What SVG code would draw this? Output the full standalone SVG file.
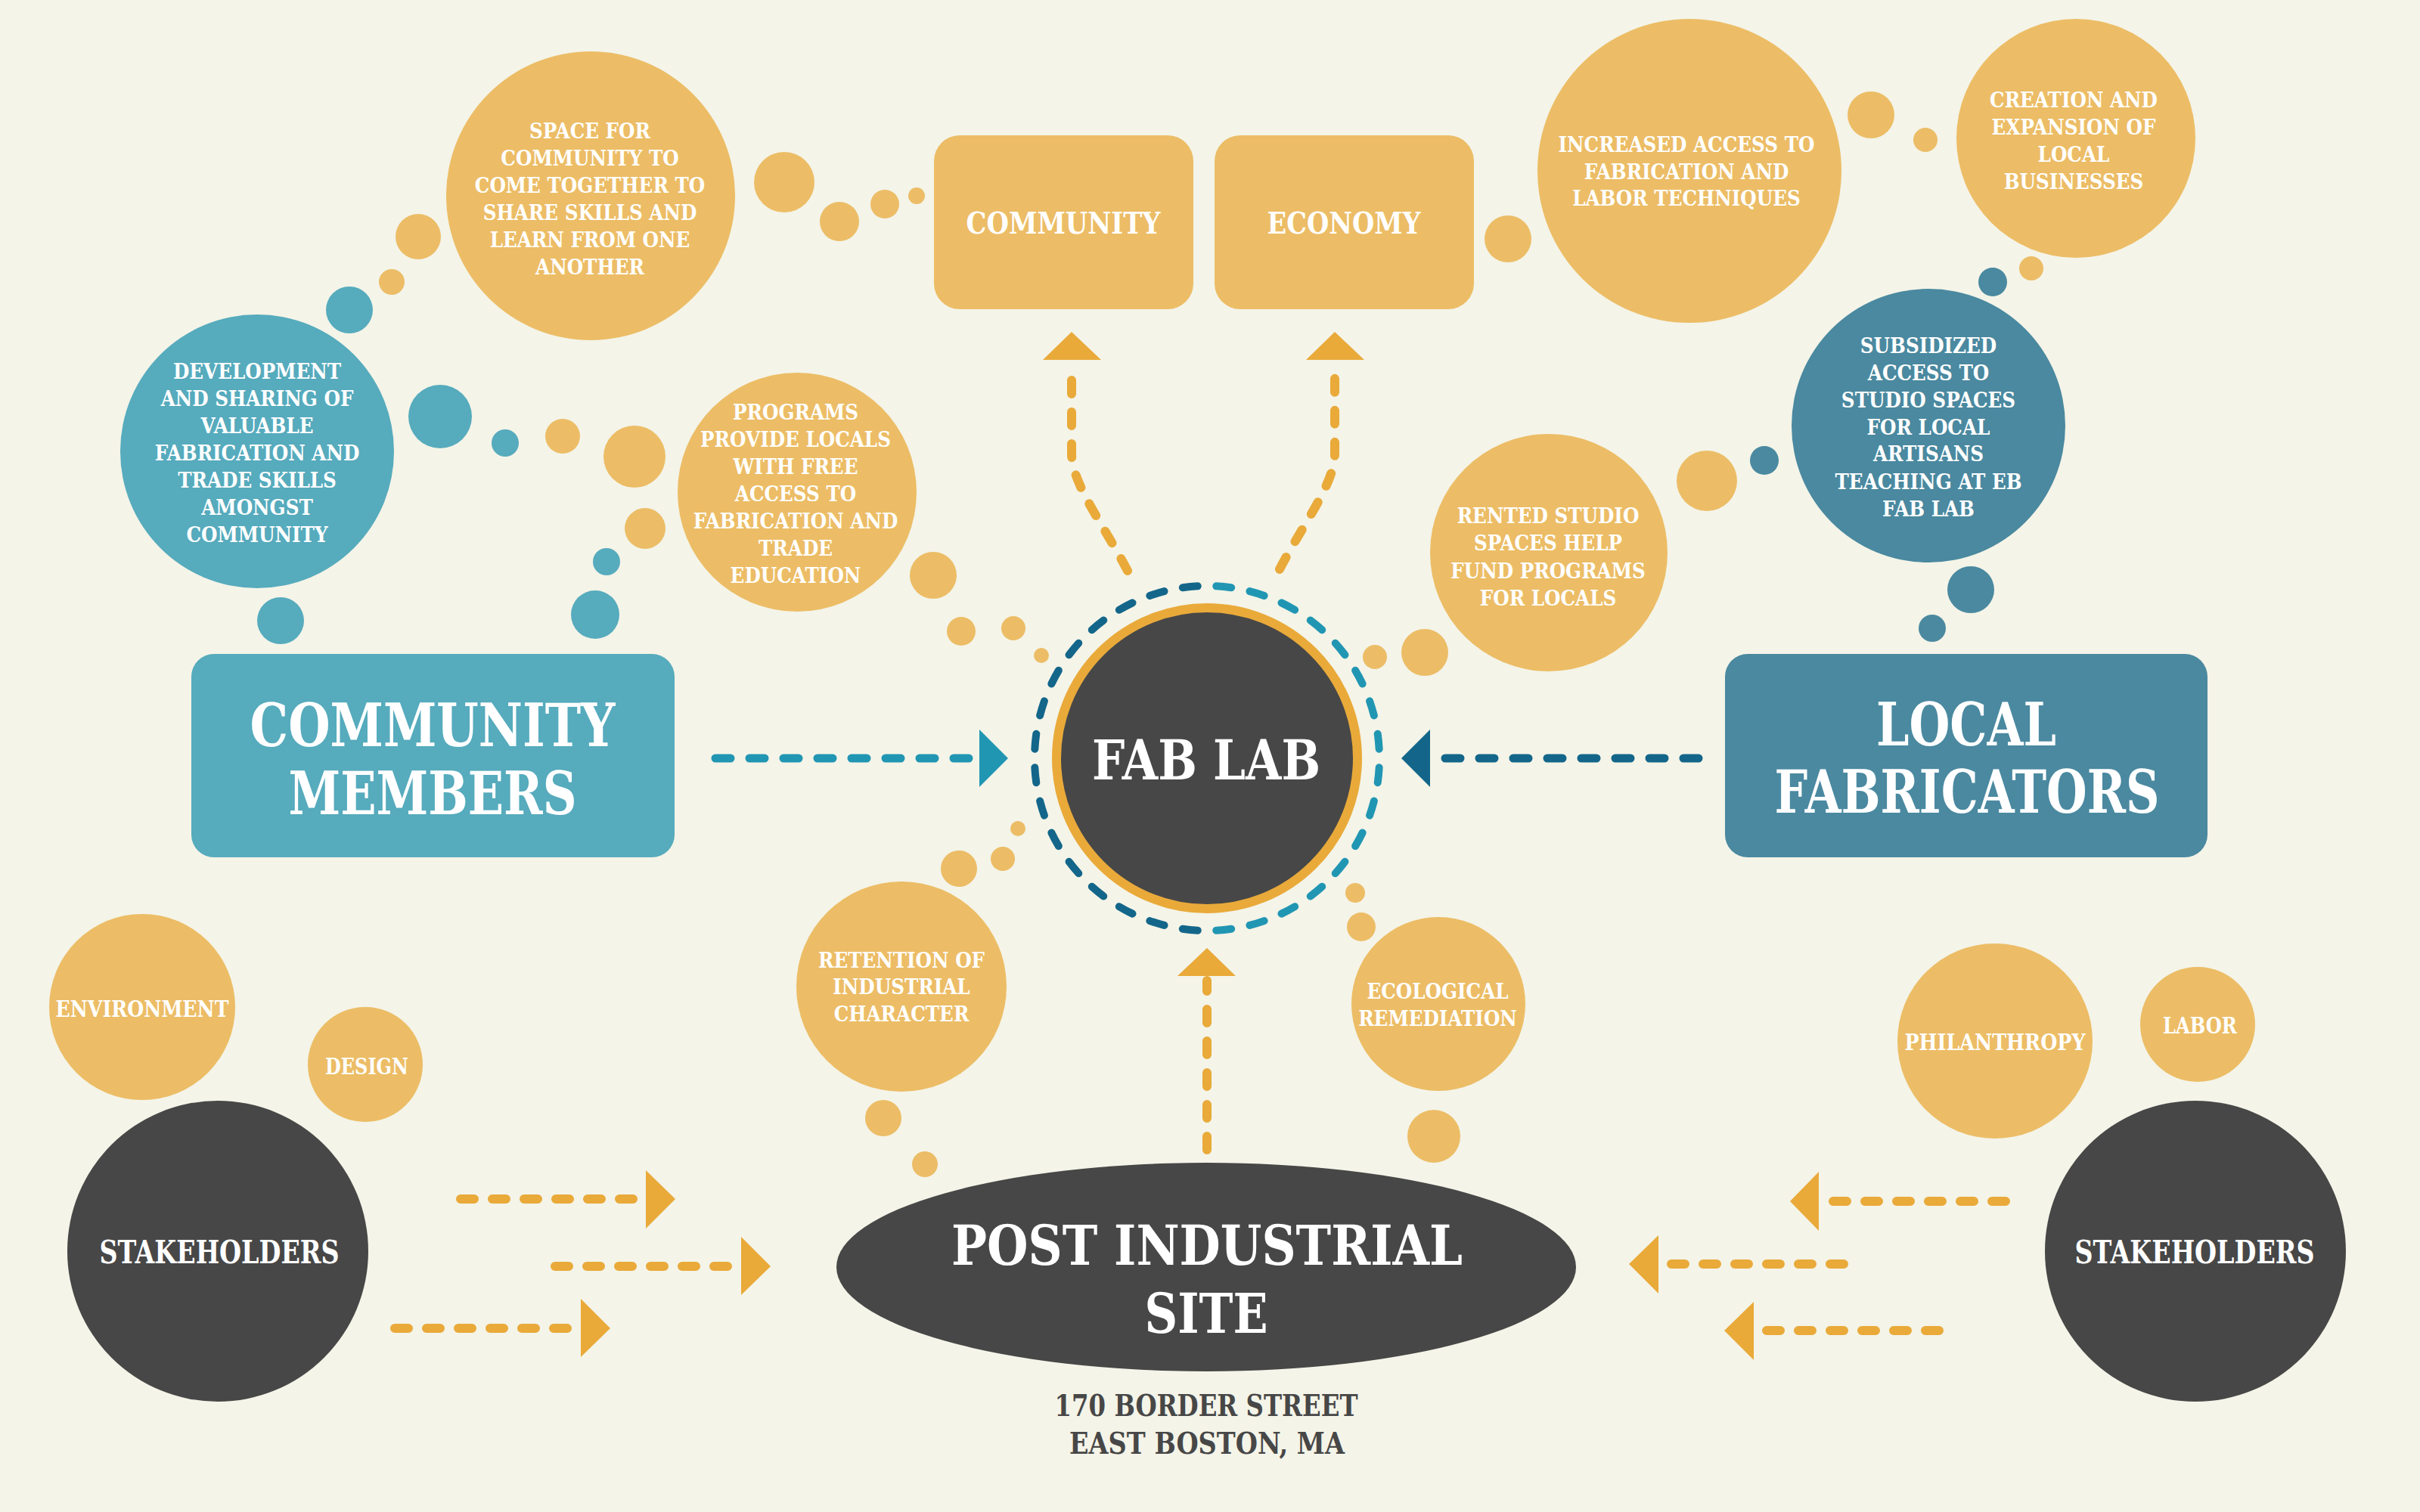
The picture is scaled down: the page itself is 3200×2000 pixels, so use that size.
<svg xmlns="http://www.w3.org/2000/svg" width="3200" height="2000" viewBox="0 0 3200 2000">
  <defs>
    <style>
      .bg { fill: #f4f4e8; }
      .yel { fill: #ecbd66; }
      .tl { fill: #56abbd; }
      .td { fill: #4a89a0; }
      .dk { fill: #474747; }
      .txt { font-family: "DejaVu Serif", "Liberation Serif", serif; font-weight: bold; fill: #ffffff; text-anchor: middle; }
      .s { font-size: 28px; }
      .k { font-size: 30px; }
      .addr { font-family: "DejaVu Serif", "Liberation Serif", serif; font-weight: bold; fill: #474747; text-anchor: middle; font-size: 40px; }
      .dash-o { fill: none; stroke: #e9aa3a; stroke-width: 12; stroke-linecap: round; stroke-dasharray: 18 24; }
      .dash-l { fill: none; stroke: #2196b3; stroke-width: 11; stroke-linecap: round; stroke-dasharray: 20 25; }
      .dash-d { fill: none; stroke: #13668a; stroke-width: 11; stroke-linecap: round; stroke-dasharray: 20 25; }
      .head-o { fill: #e9aa3a; }
      .head-l { fill: #2196b3; }
      .head-d { fill: #13668a; }
      .ring { fill: none; stroke-width: 10; stroke-linecap: round; stroke-dasharray: 20 24.75; stroke-dashoffset: 32.375; }
    </style>
  </defs>

  <rect class="bg" x="0" y="0" width="3200" height="2000"/>

  <!-- thought-bubble dots -->
  <g id="bubbles">
    <circle class="yel" cx="553" cy="313" r="30"/>
    <circle class="yel" cx="518" cy="373" r="17"/>
    <circle class="yel" cx="1037" cy="241" r="40"/>
    <circle class="yel" cx="1110" cy="293" r="26"/>
    <circle class="yel" cx="1170" cy="270" r="19"/>
    <circle class="yel" cx="1212" cy="259" r="11"/>
    <circle class="yel" cx="1994" cy="316" r="31"/>
    <circle class="yel" cx="2474" cy="152" r="31"/>
    <circle class="yel" cx="2546" cy="185" r="16"/>
    <circle class="yel" cx="2686" cy="355" r="16"/>
    <circle class="yel" cx="2257" cy="636" r="40"/>
    <circle class="yel" cx="744" cy="577" r="23"/>
    <circle class="yel" cx="839" cy="604" r="41"/>
    <circle class="yel" cx="853" cy="699" r="27"/>
    <circle class="yel" cx="1234" cy="761" r="31"/>
    <circle class="yel" cx="1271" cy="835" r="19"/>
    <circle class="yel" cx="1340" cy="831" r="16"/>
    <circle class="yel" cx="1377" cy="867" r="10"/>
    <circle class="yel" cx="1346" cy="1096" r="10"/>
    <circle class="yel" cx="1326" cy="1136" r="16"/>
    <circle class="yel" cx="1268" cy="1149" r="24"/>
    <circle class="yel" cx="1818" cy="869" r="16"/>
    <circle class="yel" cx="1884" cy="863" r="31"/>
    <circle class="yel" cx="1792" cy="1181" r="13"/>
    <circle class="yel" cx="1800" cy="1226" r="19"/>
    <circle class="yel" cx="1168" cy="1479" r="24"/>
    <circle class="yel" cx="1223" cy="1540" r="17"/>
    <circle class="yel" cx="1896" cy="1503" r="35"/>
    <circle class="tl" cx="462" cy="410" r="31"/>
    <circle class="tl" cx="582" cy="551" r="42"/>
    <circle class="tl" cx="668" cy="586" r="18"/>
    <circle class="tl" cx="802" cy="743" r="18"/>
    <circle class="tl" cx="787" cy="813" r="32"/>
    <circle class="tl" cx="371" cy="821" r="31"/>
    <circle class="td" cx="2635" cy="373" r="19"/>
    <circle class="td" cx="2333" cy="609" r="19"/>
    <circle class="td" cx="2606" cy="780" r="31"/>
    <circle class="td" cx="2555" cy="831" r="18"/>
  </g>

  <!-- connectors -->
  <g id="connectors">
    <!-- fab lab up to COMMUNITY / ECONOMY -->
    <path class="dash-o" d="M1491,755 C1460,695 1417,640 1417,600 V482"/>
    <polygon class="head-o" points="1379,476 1456,476 1417,439"/>
    <path class="dash-o" d="M1692,753 C1723,693 1765,640 1765,600 V482"/>
    <polygon class="head-o" points="1727,476 1804,476 1765,439"/>
    <!-- site up to fab lab -->
    <path class="dash-o" d="M1596,1521 V1297"/>
    <polygon class="head-o" points="1557,1291 1634,1291 1596,1254"/>
    <!-- community members to fab lab -->
    <path class="dash-l" d="M946,1003 H1295"/>
    <polygon class="head-l" points="1295,965 1295,1041 1333,1003"/>
    <!-- local fabricators to fab lab -->
    <path class="dash-d" d="M2246,1003 H1892"/>
    <polygon class="head-d" points="1891,965 1891,1041 1853,1003"/>
    <!-- left stakeholders to site -->
    <path class="dash-o" d="M609,1586 H852"/>
    <polygon class="head-o" points="854,1548 854,1625 893,1586"/>
    <path class="dash-o" d="M734,1675 H978"/>
    <polygon class="head-o" points="980,1636 980,1713 1019,1675"/>
    <path class="dash-o" d="M522,1757 H766"/>
    <polygon class="head-o" points="768,1718 768,1795 807,1757"/>
    <!-- right stakeholders to site -->
    <path class="dash-o" d="M2652,1589 H2407"/>
    <polygon class="head-o" points="2405,1550 2405,1628 2367,1589"/>
    <path class="dash-o" d="M2438,1672 H2195"/>
    <polygon class="head-o" points="2193,1634 2193,1711 2154,1672"/>
    <path class="dash-o" d="M2564,1760 H2321"/>
    <polygon class="head-o" points="2319,1722 2319,1799 2280,1760"/>
  </g>

  <!-- top category boxes -->
  <g id="community">
    <rect class="yel" x="1235" y="179" width="343" height="230" rx="34"/>
    <text class="txt" x="1406" y="309" font-size="40" textLength="257" lengthAdjust="spacingAndGlyphs">COMMUNITY</text>
  </g>
  <g id="economy">
    <rect class="yel" x="1606" y="179" width="343" height="230" rx="34"/>
    <text class="txt" x="1777" y="309" font-size="40" textLength="203" lengthAdjust="spacingAndGlyphs">ECONOMY</text>
  </g>

  <!-- benefit bubbles -->
  <g id="space-for-community">
    <circle class="yel" cx="781" cy="259" r="191"/>
    <g transform="translate(780 0) scale(0.88 1)">
      <text class="txt s" x="0" y="183">SPACE FOR</text>
      <text class="txt s" x="0" y="219">COMMUNITY TO</text>
      <text class="txt s" x="0" y="255">COME TOGETHER TO</text>
      <text class="txt s" x="0" y="291">SHARE SKILLS AND</text>
      <text class="txt s" x="0" y="327">LEARN FROM ONE</text>
      <text class="txt s" x="0" y="363">ANOTHER</text>
    </g>
  </g>
  <g id="skill-sharing">
    <circle class="tl" cx="340" cy="597" r="181"/>
    <g transform="translate(340 0) scale(0.88 1)">
      <text class="txt s" x="0" y="501">DEVELOPMENT</text>
      <text class="txt s" x="0" y="537">AND SHARING OF</text>
      <text class="txt s" x="0" y="573">VALUABLE</text>
      <text class="txt s" x="0" y="609">FABRICATION AND</text>
      <text class="txt s" x="0" y="645">TRADE SKILLS</text>
      <text class="txt s" x="0" y="681">AMONGST</text>
      <text class="txt s" x="0" y="717">COMMUNITY</text>
    </g>
  </g>
  <g id="free-programs">
    <circle class="yel" cx="1054" cy="651" r="158"/>
    <g transform="translate(1052 0) scale(0.88 1)">
      <text class="txt s" x="0" y="555">PROGRAMS</text>
      <text class="txt s" x="0" y="591">PROVIDE LOCALS</text>
      <text class="txt s" x="0" y="627">WITH FREE</text>
      <text class="txt s" x="0" y="663">ACCESS TO</text>
      <text class="txt s" x="0" y="699">FABRICATION AND</text>
      <text class="txt s" x="0" y="735">TRADE</text>
      <text class="txt s" x="0" y="771">EDUCATION</text>
    </g>
  </g>
  <g id="increased-access">
    <circle class="yel" cx="2234" cy="226" r="201"/>
    <g transform="translate(2230 0) scale(0.88 1)">
      <text class="txt s" x="0" y="201">INCREASED ACCESS TO</text>
      <text class="txt s" x="0" y="237">FABRICATION AND</text>
      <text class="txt s" x="0" y="272">LABOR TECHNIQUES</text>
    </g>
  </g>
  <g id="local-businesses">
    <circle class="yel" cx="2745" cy="183" r="158"/>
    <g transform="translate(2742 0) scale(0.88 1)">
      <text class="txt s" x="0" y="142">CREATION AND</text>
      <text class="txt s" x="0" y="178">EXPANSION OF</text>
      <text class="txt s" x="0" y="214">LOCAL</text>
      <text class="txt s" x="0" y="250">BUSINESSES</text>
    </g>
  </g>
  <g id="subsidized-studios">
    <circle class="td" cx="2550" cy="563" r="181"/>
    <g transform="translate(2550 0) scale(0.88 1)">
      <text class="txt s" x="0" y="467">SUBSIDIZED</text>
      <text class="txt s" x="0" y="503">ACCESS TO</text>
      <text class="txt s" x="0" y="539">STUDIO SPACES</text>
      <text class="txt s" x="0" y="575">FOR LOCAL</text>
      <text class="txt s" x="0" y="610">ARTISANS</text>
      <text class="txt s" x="0" y="647">TEACHING AT EB</text>
      <text class="txt s" x="0" y="683">FAB LAB</text>
    </g>
  </g>
  <g id="rented-studios">
    <circle class="yel" cx="2048" cy="731" r="157"/>
    <g transform="translate(2047 0) scale(0.88 1)">
      <text class="txt s" x="0" y="692">RENTED STUDIO</text>
      <text class="txt s" x="0" y="728">SPACES HELP</text>
      <text class="txt s" x="0" y="765">FUND PROGRAMS</text>
      <text class="txt s" x="0" y="801">FOR LOCALS</text>
    </g>
  </g>
  <g id="industrial-character">
    <circle class="yel" cx="1192" cy="1305" r="139"/>
    <g transform="translate(1192 0) scale(0.88 1)">
      <text class="txt s" x="0" y="1280">RETENTION OF</text>
      <text class="txt s" x="0" y="1315">INDUSTRIAL</text>
      <text class="txt s" x="0" y="1351">CHARACTER</text>
    </g>
  </g>
  <g id="ecological-remediation">
    <circle class="yel" cx="1902" cy="1328" r="115"/>
    <g transform="translate(1901 0) scale(0.88 1)">
      <text class="txt s" x="0" y="1321">ECOLOGICAL</text>
      <text class="txt s" x="0" y="1357">REMEDIATION</text>
    </g>
  </g>

  <!-- actor boxes -->
  <g id="community-members">
    <rect class="tl" x="253" y="865" width="639" height="269" rx="30"/>
    <text class="txt" x="572" y="987" font-size="78" textLength="483" lengthAdjust="spacingAndGlyphs">COMMUNITY</text>
    <text class="txt" x="572" y="1077" font-size="78" textLength="381" lengthAdjust="spacingAndGlyphs">MEMBERS</text>
  </g>
  <g id="local-fabricators">
    <rect class="td" x="2281" y="865" width="638" height="269" rx="30"/>
    <text class="txt" x="2600" y="986" font-size="78" textLength="238" lengthAdjust="spacingAndGlyphs">LOCAL</text>
    <text class="txt" x="2601" y="1075" font-size="78" textLength="509" lengthAdjust="spacingAndGlyphs">FABRICATORS</text>
  </g>

  <!-- central fab lab with split dashed ring -->
  <g id="fab-lab">
    <path class="ring" stroke="#13668a" d="M1596,775 A228,228 0 0 0 1596,1231"/>
    <path class="ring" stroke="#2196b3" d="M1596,775 A228,228 0 0 1 1596,1231"/>
    <circle class="dk" cx="1596" cy="1003" r="199" stroke="#e9aa3a" stroke-width="12"/>
    <text class="txt" x="1595" y="1031" font-size="72" textLength="302" lengthAdjust="spacingAndGlyphs">FAB LAB</text>
  </g>

  <!-- site -->
  <g id="post-industrial-site">
    <ellipse class="dk" cx="1595" cy="1676" rx="489" ry="138"/>
    <text class="txt" x="1596" y="1673" font-size="72" textLength="676" lengthAdjust="spacingAndGlyphs">POST INDUSTRIAL</text>
    <text class="txt" x="1595" y="1763" font-size="72" textLength="163" lengthAdjust="spacingAndGlyphs">SITE</text>
    <text class="addr" x="1595" y="1873" textLength="401" lengthAdjust="spacingAndGlyphs">170 BORDER STREET</text>
    <text class="addr" x="1596" y="1923" textLength="364" lengthAdjust="spacingAndGlyphs">EAST BOSTON, MA</text>
  </g>

  <!-- stakeholder clusters -->
  <g id="environment">
    <circle class="yel" cx="188" cy="1332" r="123"/>
    <text class="txt k" x="188" y="1345" textLength="229" lengthAdjust="spacingAndGlyphs">ENVIRONMENT</text>
  </g>
  <g id="design">
    <circle class="yel" cx="483" cy="1408" r="76"/>
    <text class="txt k" x="485" y="1421" textLength="110" lengthAdjust="spacingAndGlyphs">DESIGN</text>
  </g>
  <g id="stakeholders-left">
    <circle class="dk" cx="288" cy="1655" r="199"/>
    <text class="txt" x="290" y="1671" font-size="42" textLength="317" lengthAdjust="spacingAndGlyphs">STAKEHOLDERS</text>
  </g>
  <g id="philanthropy">
    <circle class="yel" cx="2638" cy="1377" r="129"/>
    <text class="txt k" x="2638" y="1389" textLength="239" lengthAdjust="spacingAndGlyphs">PHILANTHROPY</text>
  </g>
  <g id="labor">
    <circle class="yel" cx="2906" cy="1355" r="76"/>
    <text class="txt k" x="2909" y="1367" textLength="98" lengthAdjust="spacingAndGlyphs">LABOR</text>
  </g>
  <g id="stakeholders-right">
    <circle class="dk" cx="2903" cy="1655" r="199"/>
    <text class="txt" x="2902" y="1671" font-size="42" textLength="317" lengthAdjust="spacingAndGlyphs">STAKEHOLDERS</text>
  </g>
</svg>
